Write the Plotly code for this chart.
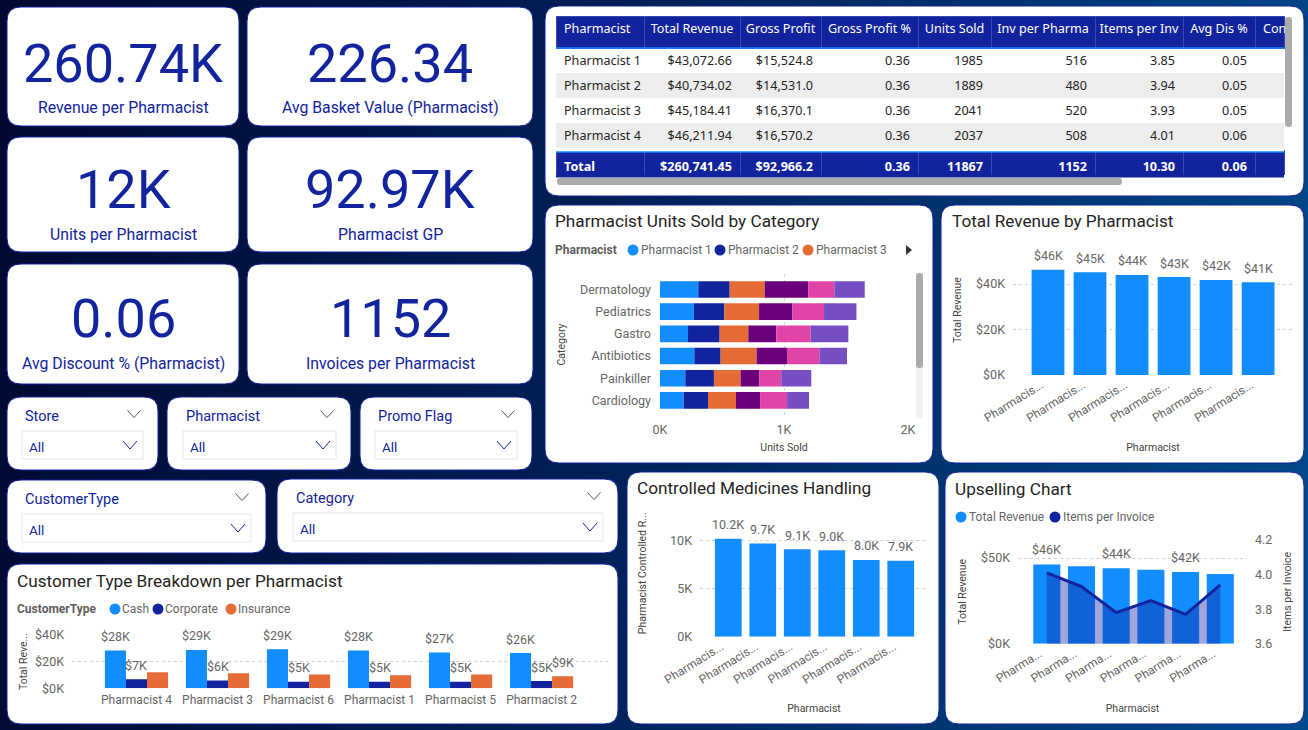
import numpy as np
import plotly.graph_objects as go

# ---------- data ----------
PHARM_ORDER = ["Pharmacist 4", "Pharmacist 3", "Pharmacist 6", "Pharmacist 1", "Pharmacist 5", "Pharmacist 2"]
REVENUE = [46211.94, 45184.41, 44000, 43072.66, 41800, 40734.02]
REVENUE_LABELS = ["$46K", "$45K", "$44K", "$43K", "$42K", "$41K"]
CONTROLLED = [10200, 9700, 9100, 9000, 8000, 7900]
CONTROLLED_LABELS = ["10.2K", "9.7K", "9.1K", "9.0K", "8.0K", "7.9K"]
ITEMS_PER_INV = [4.01, 3.93, 3.78, 3.85, 3.77, 3.94]
UPSELL_LABELS = ["$46K", "", "$44K", "", "$42K", ""]

CATEGORIES = ["Dermatology", "Pediatrics", "Gastro", "Antibiotics", "Painkiller", "Cardiology"]
UNITS_P1 = [309, 272, 226, 277, 204, 191]
UNITS_P2 = [253, 247, 255, 212, 231, 196]
UNITS_P3 = [282, 280, 231, 290, 215, 226]
UNITS_P4 = [352, 269, 226, 245, 151, 194]
UNITS_P5 = [210, 255, 277, 261, 177, 218]
UNITS_P6 = [245, 261, 304, 223, 242, 177]

CASH = [28300, 28800, 29300, 28400, 26800, 26400]
CORPORATE = [6800, 5800, 5000, 5000, 5000, 5400]
INSURANCE = [12000, 11300, 10300, 9800, 10300, 9000]
CASH_LABELS = ["$28K", "$29K", "$29K", "$28K", "$27K", "$26K"]
CORP_LABELS = ["$7K", "$6K", "$5K", "$5K", "$5K", "$5K"]
INS_LABELS = ["", "", "", "", "", "$9K"]

KPI_VALUES = ["260.74K", "226.34", "12K", "92.97K", "0.06", "1152"]
KPI_NAMES = ["Revenue per Pharmacist", "Avg Basket Value (Pharmacist)", "Units per Pharmacist",
             "Pharmacist GP", "Avg Discount % (Pharmacist)", "Invoices per Pharmacist"]
SLICERS = ["Store", "Pharmacist", "Promo Flag", "CustomerType", "Category"]

TABLE_HEAD = ["Pharmacist", "Total Revenue", "Gross Profit", "Gross Profit %", "Units Sold",
              "Inv per Pharma", "Items per Inv", "Avg Dis %", "Con"]
T_NAME = ["Pharmacist 1", "Pharmacist 2", "Pharmacist 3", "Pharmacist 4"]
T_REV = ["$43,072.66", "$40,734.02", "$45,184.41", "$46,211.94"]
T_GP = ["$15,524.8", "$14,531.0", "$16,370.1", "$16,570.2"]
T_GPP = ["0.36", "0.36", "0.36", "0.36"]
T_UNITS = ["1985", "1889", "2041", "2037"]
T_INV = ["516", "480", "520", "508"]
T_ITEMS = ["3.85", "3.94", "3.93", "4.01"]
T_DIS = ["0.05", "0.05", "0.05", "0.06"]
T_CON = ["", "", "", ""]
T_TOTAL = ["Total", "$260,741.45", "$92,966.2", "0.36", "11867", "1152", "10.30", "0.06", ""]

# ---------- style / layout helpers ----------
W, H = 1308, 730
BLUE, NAVY, ORANGE, PURPLE, PINK, VIOLET = "#118DFF", "#12239E", "#E66C37", "#6B007B", "#E044A7", "#744EC2"
FONT = "Roboto"
TFONT = "Noto Sans"
TICK = "#666666"
TITLE = "#252423"
AXT = "#444444"
GRID = "#D2D2D2"
TITLE_SIZE = 17.2
TS = 12.6


def X(p):
    return p / W


def Y(p):
    return 1 - p / H


def nb(s):
    return s.replace(" ", "\u00a0")


shapes, annos = [], []


def rrect(x0, y0, x1, y1, r=14, fill="white", line=NAVY, lw=1):
    p = (f"M {X(x0+r)} {Y(y0)} L {X(x1-r)} {Y(y0)} Q {X(x1)} {Y(y0)} {X(x1)} {Y(y0+r)} "
         f"L {X(x1)} {Y(y1-r)} Q {X(x1)} {Y(y1)} {X(x1-r)} {Y(y1)} "
         f"L {X(x0+r)} {Y(y1)} Q {X(x0)} {Y(y1)} {X(x0)} {Y(y1-r)} "
         f"L {X(x0)} {Y(y0+r)} Q {X(x0)} {Y(y0)} {X(x0+r)} {Y(y0)} Z")
    shapes.append(dict(type="path", path=p, xref="paper", yref="paper", fillcolor=fill,
                       line=dict(color=line, width=lw), layer="below"))


def rect(x0, y0, x1, y1, fill="rgba(0,0,0,0)", line="rgba(0,0,0,0)", lw=0, layer="below"):
    shapes.append(dict(type="rect", xref="paper", yref="paper", x0=X(x0), x1=X(x1), y0=Y(y1), y1=Y(y0),
                       fillcolor=fill, line=dict(color=line, width=lw), layer=layer))


def dot(cx, cy, color, r=5.5):
    shapes.append(dict(type="circle", xref="paper", yref="paper", x0=X(cx-r), x1=X(cx+r), y0=Y(cy+r), y1=Y(cy-r),
                       fillcolor=color, line=dict(width=0), layer="below"))


def chevron(cx, cy, color, w=6.5, h=3.5):
    p = f"M {X(cx-w)} {Y(cy-h)} L {X(cx)} {Y(cy+h)} L {X(cx+w)} {Y(cy-h)}"
    shapes.append(dict(type="path", path=p, xref="paper", yref="paper", fillcolor="rgba(0,0,0,0)",
                       line=dict(color=color, width=1), layer="below"))


def txt(x, y, s, size=12, color=TICK, anchor="left", family=FONT, angle=0):
    annos.append(dict(x=X(x), y=Y(y), xref="paper", yref="paper", text=s, showarrow=False, xanchor=anchor,
                      yanchor="middle", textangle=angle, font=dict(size=size, color=color, family=family),
                      borderpad=0, borderwidth=0))


def barlabels(xa, ya, xs, ys, labels, shift=14, size=12.5):
    for a, b, t in zip(xs, ys, labels):
        if t:
            annos.append(dict(x=a, y=b, xref=xa, yref=ya, text=t, showarrow=False, yshift=shift,
                              yanchor="middle", font=dict(size=size, color=TICK, family=FONT)))


# ---------- cards ----------
kpi_cards = [(7, 7, 239, 126, 63, 107), (247, 7, 533, 126, 63, 107),
             (7, 137, 239, 252, 190, 235), (247, 137, 533, 252, 190, 235),
             (7, 264, 239, 384, 319, 364), (247, 264, 533, 384, 319, 364)]
for (x0, y0, x1, y1, ny, ly), v, n in zip(kpi_cards, KPI_VALUES, KPI_NAMES):
    rrect(x0, y0, x1, y1)
    txt((x0+x1)/2, ny, v, 54, NAVY, "center")
    txt((x0+x1)/2, ly, n, 15.8, NAVY, "center")

slicer_boxes = [(7, 397, 158, 470, 22, 143, 431), (167, 397, 351, 470, 183, 336, 431), (360, 397, 532, 470, 375, 517, 431),
                (7, 480, 266, 553, 22, 251, 514), (277, 479, 618, 553, 293, 603, 513)]
for (x0, y0, x1, y1, bx0, bx1, by), name in zip(slicer_boxes, SLICERS):
    rrect(x0, y0, x1, y1)
    txt(bx0+3, by-15, name, 14.5, NAVY)
    chevron(bx1-9, by-17, "#555555")
    rect(bx0, by, bx1, by+28, fill="white", line="#E6E6E6", lw=1)
    txt(bx0+7, by+16, "All", 13.5, NAVY)
    chevron(bx1-13, by+14, NAVY, w=7, h=4)

rrect(545, 6, 1304, 196)
rrect(545, 205, 933, 463)
rrect(941, 205, 1304, 463)
rrect(627, 472, 939, 724)
rrect(945, 472, 1304, 724)
rrect(7, 564, 618, 724)

txt(555, 221.5, "Pharmacist Units Sold by Category", TITLE_SIZE, TITLE)
txt(952, 221.5, "Total Revenue by Pharmacist", TITLE_SIZE, TITLE)
txt(637, 488, "Controlled Medicines Handling", TITLE_SIZE, TITLE)
txt(955, 489, "Upselling Chart", TITLE_SIZE, TITLE)
txt(17, 581, "Customer Type Breakdown per Pharmacist", TITLE_SIZE, TITLE)

# legends
txt(555, 250, "<b>Pharmacist</b>", 12, "#605E5C")
for cx, c, s in [(633, BLUE, "Pharmacist 1"), (720, NAVY, "Pharmacist 2"), (808, ORANGE, "Pharmacist 3")]:
    dot(cx, 250, c)
    txt(cx+7.5, 250, s, 12, TICK)
shapes.append(dict(type="path", xref="paper", yref="paper", fillcolor="#333333", line=dict(width=0), layer="below",
                   path=f"M {X(906)} {Y(245)} L {X(912)} {Y(250)} L {X(906)} {Y(255)} Z"))
rrect(916, 273, 923, 418, r=3, fill="#F0F0F0", line="#F0F0F0", lw=0)
rrect(916, 273, 923, 368, r=3, fill="#ABABAB", line="#ABABAB", lw=0)

txt(17, 609, "<b>CustomerType</b>", 12, "#605E5C")
for cx, c, s in [(115, BLUE, "Cash"), (158, NAVY, "Corporate"), (231, ORANGE, "Insurance")]:
    dot(cx, 609, c)
    txt(cx+7, 609, s, 12, TICK)
for cx, c, s in [(961, BLUE, "Total Revenue"), (1055, NAVY, "Items per Invoice")]:
    dot(cx, 517, c)
    txt(cx+8, 517, s, 12, TICK)

# ---------- traces ----------
fig = go.Figure()

# Units sold by category (stacked through explicit cumulative bases)
stack = np.array([UNITS_P1, UNITS_P2, UNITS_P3, UNITS_P4, UNITS_P5, UNITS_P6], dtype=float)
bases = np.vstack([np.zeros(len(CATEGORIES)), np.cumsum(stack, axis=0)[:-1]])
for i, c in enumerate([BLUE, NAVY, ORANGE, PURPLE, PINK, VIOLET]):
    fig.add_trace(go.Bar(y=CATEGORIES, x=stack[i], base=bases[i], orientation="h", marker=dict(color=c, line=dict(width=0)),
                         width=0.75, name=f"Pharmacist {i+1}", xaxis="x", yaxis="y"))

# Revenue
fig.add_trace(go.Bar(x=PHARM_ORDER, y=REVENUE, marker=dict(color=BLUE, line=dict(width=0)), width=0.78,
                     name="Total Revenue", xaxis="x2", yaxis="y2"))
barlabels("x2", "y2", PHARM_ORDER, REVENUE, REVENUE_LABELS)

# Controlled
fig.add_trace(go.Bar(x=PHARM_ORDER, y=CONTROLLED, marker=dict(color=BLUE, line=dict(width=0)), width=0.775,
                     name="Controlled", xaxis="x3", yaxis="y3"))
barlabels("x3", "y3", PHARM_ORDER, CONTROLLED, CONTROLLED_LABELS)

# Upsell
fig.add_trace(go.Bar(x=PHARM_ORDER, y=REVENUE, marker=dict(color=BLUE, line=dict(width=0)), width=0.78,
                     name="Total Revenue", xaxis="x4", yaxis="y4"))
barlabels("x4", "y4", PHARM_ORDER, REVENUE, UPSELL_LABELS, shift=15)
fig.add_trace(go.Scatter(x=PHARM_ORDER, y=ITEMS_PER_INV, mode="lines", line=dict(color=NAVY, width=3),
                         fill="tozeroy", fillcolor="rgba(18,35,158,0.4)", name="Items per Invoice",
                         xaxis="x4", yaxis="y6"))

# Customer type
for vals, c, off, labels in [(CASH, BLUE, -0.39, CASH_LABELS), (CORPORATE, NAVY, -0.13, CORP_LABELS),
                             (INSURANCE, ORANGE, 0.13, INS_LABELS)]:
    fig.add_trace(go.Bar(x=PHARM_ORDER, y=vals, marker=dict(color=c, line=dict(width=0)), width=0.26, offset=off,
                         xaxis="x5", yaxis="y5"))
    shift_x = off + 0.13
    for j, (v, t) in enumerate(zip(vals, labels)):
        if t:
            annos.append(dict(x=j + shift_x, y=v, xref="x5", yref="y5", text=t, showarrow=False, yshift=14,
                              yanchor="middle", font=dict(size=12.5, color=TICK, family=FONT)))

# Table
col_edges = [556, 644, 740, 821, 918, 991, 1095, 1183, 1255, 1284]
col_w = list(np.diff(col_edges))
HL = "#3B48B5"
aligns = ["left"] + ["right"] * 7 + ["left"]
fig.add_trace(go.Table(
    domain=dict(x=[X(556), X(1284)], y=[Y(148), Y(16)]),
    columnwidth=col_w, columnorder=list(range(9)),
    header=dict(values=[nb(t) for t in TABLE_HEAD], height=32, fill_color=NAVY, line=dict(color=HL, width=1),
                align=["left"] + ["center"] * 7 + ["left"], font=dict(color="white", size=TS, family=TFONT)),
    cells=dict(values=[[nb(s) for s in T_NAME], T_REV, T_GP, T_GPP, T_UNITS, T_INV, T_ITEMS, T_DIS, T_CON], height=25,
               fill_color=[["white", "#EDEDED", "white", "#EDEDED"]] * 9, line=dict(color="rgba(255,255,255,0)", width=0),
               align=aligns, font=dict(color="#252423", size=TS, family=TFONT))))
rect(556, 175, 1284, 177.5, fill=NAVY)
fig.add_trace(go.Table(
    domain=dict(x=[X(556), X(1284)], y=[Y(175.5), Y(150)]),
    columnwidth=col_w, columnorder=list(range(9)),
    header=dict(values=[f"<b>{t}</b>" for t in T_TOTAL], height=25, fill_color=NAVY, line=dict(color=HL, width=1),
                align=aligns, font=dict(color="white", size=TS, family=TFONT)),
    cells=dict(values=[[] for _ in T_TOTAL], height=1)))

rect(556, 149, 1284, 152, fill="white", layer="above")
shapes.append(dict(type="line", xref="paper", yref="paper", x0=X(556), x1=X(1284), y0=Y(48), y1=Y(48),
                   line=dict(color=BLUE, width=1.5), layer="above"))
shapes.append(dict(type="line", xref="paper", yref="paper", x0=X(556), x1=X(1284), y0=Y(152), y1=Y(152),
                   line=dict(color=BLUE, width=1.5), layer="above"))
rrect(1285, 17, 1292, 127, r=3, fill="#ABABAB", line="#ABABAB", lw=0)
rrect(557, 178, 1122, 185, r=3, fill="#ABABAB", line="#ABABAB", lw=0)

# ---------- axes ----------
def dom_x(a, b):
    return [X(a), X(b)]


def dom_y(top, bottom):
    return [Y(bottom), Y(top)]


grid = dict(showgrid=True, gridcolor=GRID, griddash="dot", gridwidth=1, zeroline=False, showline=False, ticks="",
            tickfont=dict(size=12.5, color=TICK, family=FONT), automargin=False)
noxgrid = dict(showgrid=False, zeroline=False, showline=False, ticks="", automargin=False,
               tickfont=dict(size=12, color=TICK, family=FONT), type="category",
               categoryorder="array", categoryarray=PHARM_ORDER)
rot = dict(tickangle=-32, ticklabelshift=-7)
aft = dict(size=10.5, color=AXT, family=FONT)

TRUNC9 = ["Pharmacis..."] * 6
TRUNC6 = ["Pharma..."] * 6

fig.update_layout(
    width=W, height=H, margin=dict(l=0, r=0, t=0, b=0, pad=0), autosize=False, showlegend=False,
    paper_bgcolor="rgba(0,0,0,0)", plot_bgcolor="rgba(0,0,0,0)", barmode="overlay",
    shapes=shapes, annotations=annos, font=dict(family=FONT),
    xaxis=dict(**grid, domain=dom_x(660, 908), range=[0, 2000], tickvals=[0, 1000, 2000], ticktext=["0K", "1K", "2K"],
               anchor="y", title=dict(text="Units Sold", font=aft, standoff=7), ticklabelstandoff=5),
    yaxis=dict(showgrid=False, zeroline=False, showline=False, ticks="", automargin=False,
               tickfont=dict(size=12.5, color=TICK, family=FONT), type="category", categoryorder="array",
               categoryarray=CATEGORIES, domain=dom_y(273.5, 415.5), range=[5.68, -0.72], anchor="x",
               title=dict(text="Category", font=aft, standoff=12), ticklabelstandoff=8),
    xaxis2=dict(**noxgrid, **rot, domain=dom_x(1013, 1293), range=[-0.833, 5.83], anchor="y2", tickvals=PHARM_ORDER,
                ticktext=TRUNC9, title=dict(text="Pharmacist", font=aft, standoff=19)),
    yaxis2=dict(**grid, domain=dom_y(245, 375), range=[0, (375-245)/45.5*20000], anchor="x2", tickvals=[0, 20000, 40000],
                ticktext=["$0K", "$20K", "$40K"], title=dict(text="Total Revenue", font=aft, standoff=12), ticklabelstandoff=7),
    xaxis3=dict(**noxgrid, **rot, domain=dom_x(700, 928), range=[-0.82, 5.79], anchor="y3", tickvals=PHARM_ORDER,
                ticktext=TRUNC9, title=dict(text="Pharmacist", font=aft, standoff=18)),
    yaxis3=dict(**grid, domain=dom_y(510, 636.7), range=[0, (636.7-510)/48*5000], anchor="x3", tickvals=[0, 5000, 10000],
                ticktext=["0K", "5K", "10K"], title=dict(text="Pharmacist Controlled R...", font=aft, standoff=21), ticklabelstandoff=7),
    xaxis4=dict(**noxgrid, **rot, domain=dom_x(1018, 1247), range=[-0.83, 5.77], anchor="y4", tickvals=PHARM_ORDER,
                ticktext=TRUNC6, title=dict(text="Pharmacist", font=aft, standoff=20)),
    yaxis4=dict(**grid, domain=dom_y(540, 643.7), range=[0, (643.7-540)/85.7*50000], anchor="x4", tickvals=[0, 50000],
                ticktext=["$0K", "$50K"], title=dict(text="Total Revenue", font=aft, standoff=12), ticklabelstandoff=7),
    yaxis6=dict(showgrid=False, zeroline=False, showline=False, ticks="", automargin=False, overlaying="y4", side="right",
                anchor="x4", range=[3.6, 4.2], tickvals=[3.6, 3.8, 4.0, 4.2], ticktext=["3.6", "3.8", "4.0", "4.2"],
                tickfont=dict(size=12.5, color=TICK, family=FONT), ticklabelstandoff=7,
                title=dict(text="Items per Invoice", font=aft, standoff=12)),
    xaxis5=dict(**noxgrid, domain=dom_x(72, 608), range=[-0.796, 5.82], anchor="y5", tickangle=0, tickvals=PHARM_ORDER,
                ticktext=PHARM_ORDER, ticklabelstandoff=3),
    yaxis5=dict(**grid, domain=dom_y(635, 688.3), range=[0, 40000], anchor="x5", tickvals=[0, 20000, 40000],
                ticktext=["$0K", "$20K", "$40K"], title=dict(text="Total Reve...", font=aft, standoff=5), ticklabelstandoff=7),
)

post = """
document.documentElement.style.height='100%';
document.documentElement.style.background='linear-gradient(98deg,#010830 0%,#001f55 45%,#004a8c 100%)';
document.body.style.margin='0';
document.body.style.overflow='hidden';
document.body.style.background='transparent';
"""
fig.write_html("out.html", post_script=post, config=dict(displayModeBar=False))
